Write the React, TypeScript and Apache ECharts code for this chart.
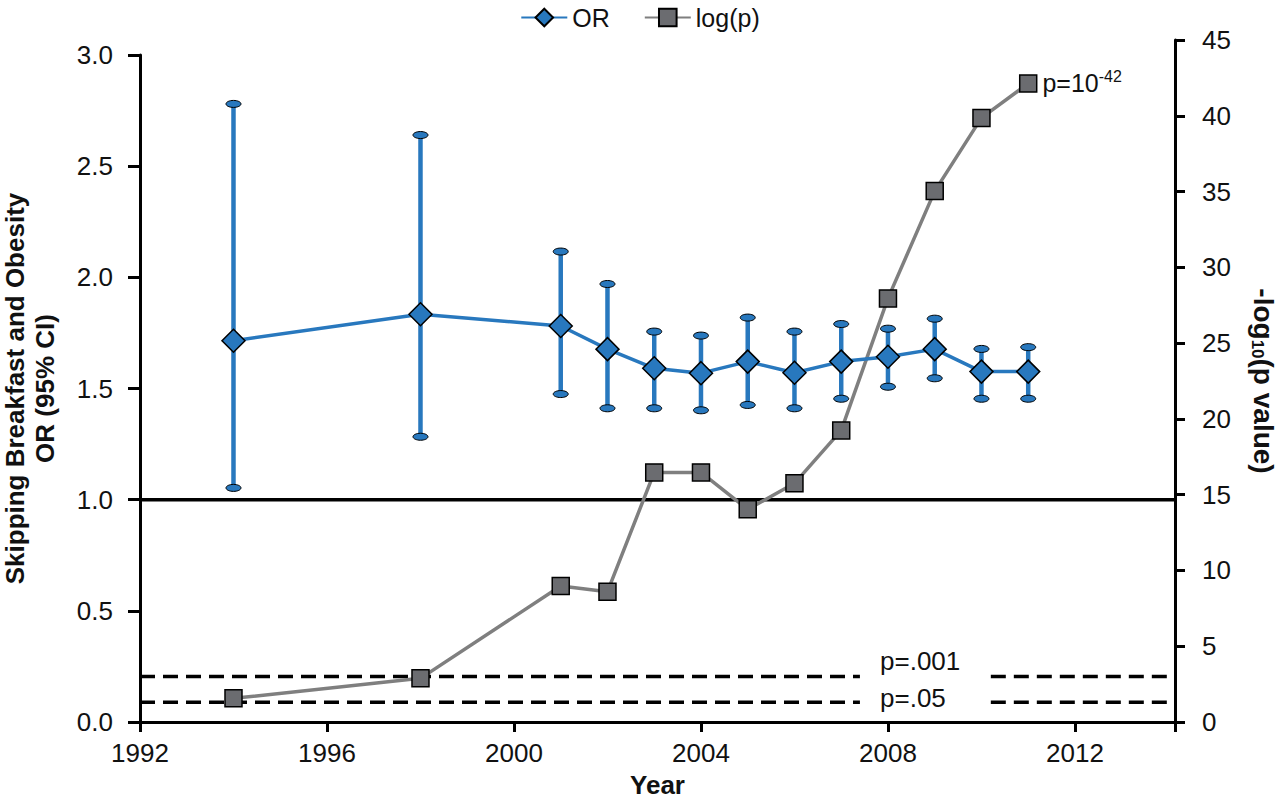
import React, { useEffect, useRef } from "react";
import * as echarts from "echarts";

// ---- data ----
const years = [1994, 1998, 2001, 2002, 2003, 2004, 2005, 2006, 2007, 2008, 2009, 2010, 2011];
const orValues = [1.715, 1.834, 1.781, 1.677, 1.591, 1.569, 1.621, 1.571, 1.621, 1.643, 1.677, 1.576, 1.576];
const ciLower = [1.053, 1.283, 1.475, 1.411, 1.411, 1.402, 1.426, 1.411, 1.454, 1.508, 1.546, 1.454, 1.454];
const ciUpper = [2.78, 2.64, 2.116, 1.97, 1.756, 1.738, 1.819, 1.756, 1.79, 1.769, 1.814, 1.678, 1.686];
const logP = [1.56, 2.88, 8.97, 8.6, 16.47, 16.47, 14.03, 15.75, 19.24, 27.95, 35.03, 39.86, 42.13];
const thresholdLabels = ["p=.05", "p=.001"];
const thresholdValues = [1.301, 3];
const lastLabelBase = "p=10";
const lastLabelExp = "-42";
const xTickLabels = ["1992", "1996", "2000", "2004", "2008", "2012"];

const X_MIN = 1992;
const X_MAX = 2014.14;
const GAP_START = 2007.4;
const GAP_END = 2010.2;
const LABEL_X = 2007.83;

const BLUE = "#2878be";
const GRAY_FILL = "#6b6c70";
const GRAY_LINE = "#7f7f7f";
const FONT = "Liberation Sans, Arial, Helvetica, sans-serif";
const TXT = "#111";

export default function App() {
  const ref = useRef<HTMLDivElement>(null);
  useEffect(() => {
    if (!ref.current) return;
    const chart = echarts.init(ref.current, undefined, { renderer: "svg" });

    const errData = years.map((y, i) => [y, ciLower[i], ciUpper[i]]);
    const orData = years.map((y, i) => [y, orValues[i]]);
    const logData = years.map((y, i) => {
      if (i === years.length - 1) {
        return {
          value: [y, logP[i]],
          label: {
            show: true,
            position: "right",
            distance: 5,
            formatter: "{b|" + lastLabelBase + "}{s|" + lastLabelExp + "}",
            rich: {
              b: { fontSize: 25, fontFamily: FONT, color: TXT },
              s: { fontSize: 16, fontFamily: FONT, color: TXT, padding: [0, 0, 14, 0] },
            },
          },
        };
      }
      return [y, logP[i]];
    });

    const thresholdSeries: any[] = [];
    thresholdValues.forEach((v) => {
      [
        [X_MIN, GAP_START],
        [GAP_END, X_MAX],
      ].forEach(([a, b]) => {
        thresholdSeries.push({
          type: "line",
          xAxisIndex: 1,
          yAxisIndex: 1,
          data: [
            [a, v],
            [b, v],
          ],
          symbol: "none",
          silent: true,
          z: 1,
          lineStyle: { color: "#000", width: 3.5, type: [15, 8] },
        });
      });
    });

    const labelOffsets = [-4, -16];

    const option: any = {
      animation: false,
      backgroundColor: "#fff",
      textStyle: { fontFamily: FONT },
      legend: {
        top: 0,
        left: "center",
        itemWidth: 46,
        itemHeight: 22,
        itemGap: 34,
        data: ["OR", "log(p)"],
        textStyle: { fontSize: 25, color: TXT, fontFamily: FONT },
      },
      grid: [
        { left: 140, right: 105, top: 55, bottom: 78, outerBoundsMode: "none", containLabel: false },
        { left: 140, right: 105, top: 40, bottom: 78, outerBoundsMode: "none", containLabel: false },
      ],
      xAxis: [
        {
          type: "value",
          gridIndex: 0,
          min: X_MIN,
          max: X_MAX,
          interval: 4,
          name: "Year",
          nameLocation: "middle",
          nameGap: 50,
          nameTextStyle: { fontSize: 26, fontWeight: "bold", color: TXT, fontFamily: FONT },
          axisLine: { show: true, lineStyle: { color: "#000", width: 3 } },
          axisTick: { show: true, length: 10, lineStyle: { color: "#000", width: 3 } },
          axisLabel: {
            fontSize: 26,
            color: TXT,
            margin: 18,
            fontFamily: FONT,
            formatter: (v: number) => {
              const s = String(Math.round(v));
              return Math.abs(v - Math.round(v)) < 1e-6 && xTickLabels.indexOf(s) >= 0 ? s : "";
            },
          },
          splitLine: { show: false },
        },
        {
          type: "value",
          gridIndex: 1,
          min: X_MIN,
          max: X_MAX,
          show: false,
        },
      ],
      yAxis: [
        {
          type: "value",
          gridIndex: 0,
          position: "left",
          min: 0,
          max: 3,
          interval: 0.5,
          name: "Skipping Breakfast and Obesity\nOR (95% CI)",
          nameLocation: "middle",
          nameRotate: 90,
          nameGap: 80,
          nameTextStyle: {
            fontSize: 26,
            fontWeight: "bold",
            color: TXT,
            fontFamily: FONT,
            lineHeight: 30,
          },
          axisLine: { show: true, lineStyle: { color: "#000", width: 3 } },
          axisTick: { show: true, length: 12, lineStyle: { color: "#000", width: 3 } },
          axisLabel: {
            fontSize: 26,
            color: TXT,
            margin: 27,
            fontFamily: FONT,
            formatter: (v: number) => v.toFixed(1),
          },
          splitLine: { show: false },
        },
        {
          type: "value",
          gridIndex: 1,
          position: "right",
          min: 0,
          max: 45,
          interval: 5,
          name: "{m|-log}{s|10}{m|(p value)}",
          nameLocation: "middle",
          nameRotate: -90,
          nameGap: 74,
          nameTextStyle: {
            fontSize: 28,
            fontWeight: "bold",
            color: TXT,
            fontFamily: FONT,
            rich: {
              m: { fontSize: 28, fontWeight: "bold", color: TXT, fontFamily: FONT },
              s: { fontSize: 17, fontWeight: "bold", color: TXT, fontFamily: FONT, padding: [12, 0, 0, 0] },
            },
          },
          axisLine: { show: true, lineStyle: { color: "#000", width: 3 } },
          axisTick: { show: true, length: 10, lineStyle: { color: "#000", width: 3 } },
          axisLabel: { fontSize: 26, color: TXT, margin: 27, fontFamily: FONT },
          splitLine: { show: false },
        },
      ],
      series: [
        {
          name: "ref",
          type: "line",
          xAxisIndex: 0,
          yAxisIndex: 0,
          data: [
            [X_MIN, 1],
            [X_MAX, 1],
          ],
          symbol: "none",
          silent: true,
          z: 1,
          lineStyle: { color: "#000", width: 3.5 },
        },
        ...thresholdSeries,
        {
          name: "thrLabels",
          type: "scatter",
          xAxisIndex: 1,
          yAxisIndex: 1,
          symbolSize: 0,
          silent: true,
          itemStyle: { opacity: 1 },
          data: thresholdValues.map((v, i) => ({
            value: [LABEL_X, v],
            label: {
              show: true,
              position: "right",
              distance: 0,
              offset: [0, labelOffsets[i]],
              formatter: thresholdLabels[i],
              fontSize: 26,
              color: TXT,
              opacity: 1,
              fontFamily: FONT,
            },
          })),
        },
        {
          name: "log(p)",
          type: "line",
          xAxisIndex: 1,
          yAxisIndex: 1,
          data: logData,
          symbol: "rect",
          symbolSize: 17,
          z: 3,
          itemStyle: { color: GRAY_FILL, borderColor: "#000", borderWidth: 1.5 },
          lineStyle: { color: GRAY_LINE, width: 3.5 },
        },
        {
          name: "errbars",
          type: "custom",
          xAxisIndex: 0,
          yAxisIndex: 0,
          z: 4,
          silent: true,
          encode: { x: 0, y: [1, 2] },
          data: errData,
          renderItem: (params: any, api: any) => {
            const x = api.value(0);
            const p1 = api.coord([x, api.value(1)]);
            const p2 = api.coord([x, api.value(2)]);
            return {
              type: "group",
              children: [
                {
                  type: "line",
                  shape: { x1: p1[0], y1: p1[1], x2: p2[0], y2: p2[1] },
                  style: { stroke: BLUE, lineWidth: 4.5 },
                },
                {
                  type: "ellipse",
                  shape: { cx: p1[0], cy: p1[1], rx: 7.5, ry: 3.5 },
                  style: { fill: BLUE, stroke: "#000", lineWidth: 1 },
                },
                {
                  type: "ellipse",
                  shape: { cx: p2[0], cy: p2[1], rx: 7.5, ry: 3.5 },
                  style: { fill: BLUE, stroke: "#000", lineWidth: 1 },
                },
              ],
            };
          },
        },
        {
          name: "OR",
          type: "line",
          xAxisIndex: 0,
          yAxisIndex: 0,
          data: orData,
          symbol: "diamond",
          symbolSize: 23,
          z: 5,
          itemStyle: { color: BLUE, borderColor: "#000", borderWidth: 1.5 },
          lineStyle: { color: BLUE, width: 3.5 },
        },
      ],
    };
    chart.setOption(option);
    return () => chart.dispose();
  }, []);
  return (
    <div
      ref={ref}
      style={{ position: "fixed", left: 0, top: 0, width: 1280, height: 800, background: "#fff" }}
    />
  );
}
